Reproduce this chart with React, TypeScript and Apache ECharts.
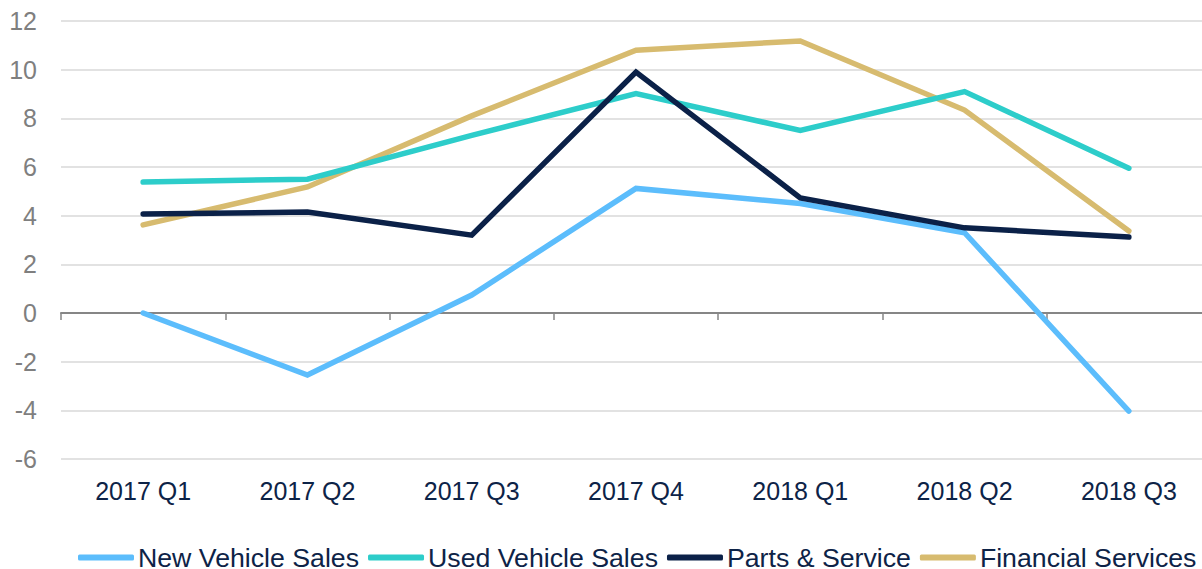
import React, { useEffect, useRef } from "react";
import * as echarts from "echarts";

const categories = ["2017 Q1", "2017 Q2", "2017 Q3", "2017 Q4", "2018 Q1", "2018 Q2", "2018 Q3"];
const newVehicleSales = [0, -2.55, 0.74, 5.12, 4.5, 3.3, -4.03];
const usedVehicleSales = [5.38, 5.5, 7.3, 9.02, 7.5, 9.1, 5.95];
const partsService = [4.07, 4.15, 3.2, 9.9, 4.73, 3.5, 3.12];
const financialServices = [3.62, 5.18, 8.1, 10.8, 11.18, 8.34, 3.37];
const yTicks = { min: -6, max: 12, interval: 2 };

const FONT = "'Liberation Sans', Arial, sans-serif";

export default function App() {
  const ref = useRef<HTMLDivElement>(null);
  useEffect(() => {
    if (!ref.current) return;
    const chart = echarts.init(ref.current, undefined, { renderer: "svg" });
    const mk = (name: string, data: number[], color: string, z: number) => ({
      name,
      type: "line",
      data,
      symbol: "none",
      z,
      xAxisIndex: 0,
      lineStyle: { color, width: 5.5, cap: "round", join: "miter" },
      itemStyle: { color },
    });
    chart.setOption({
      animation: false,
      textStyle: { fontFamily: FONT },
      grid: { left: 61, right: 9, top: 21, bottom: 110, containLabel: false },
      legend: {
        left: 78,
        top: 544,
        padding: 0,
        icon: "roundRect",
        itemWidth: 56,
        itemHeight: 6,
        itemGap: 9,
        textStyle: { fontSize: 26.7, lineHeight: 24, color: "#0d2347", fontFamily: FONT, padding: [0, 0, 0, -1] },
        data: ["New Vehicle Sales", "Used Vehicle Sales", "Parts & Service", "Financial Services"],
      },
      xAxis: [
        {
          type: "category",
          data: categories,
          boundaryGap: true,
          axisLine: { onZero: true, lineStyle: { color: "#868686", width: 2 } },
          axisTick: { show: true, length: 7, lineStyle: { color: "#868686", width: 1.5 } },
          axisLabel: { show: false },
          splitLine: { show: false },
        },
        {
          type: "category",
          data: categories,
          position: "bottom",
          boundaryGap: true,
          axisLine: { show: false, onZero: false },
          axisTick: { show: false },
          axisLabel: { show: true, fontSize: 25, color: "#0d2347", margin: 19, fontFamily: FONT },
          splitLine: { show: false },
        },
      ],
      yAxis: {
        type: "value",
        min: yTicks.min,
        max: yTicks.max,
        interval: yTicks.interval,
        axisLine: { show: false },
        axisTick: { show: false },
        axisLabel: { fontSize: 25, color: "#7f7f7f", margin: 24, fontFamily: FONT },
        splitLine: { lineStyle: { color: "#d9d9d9", width: 1.5 } },
      },
      series: [
        mk("New Vehicle Sales", newVehicleSales, "#5cbdfc", 2),
        mk("Used Vehicle Sales", usedVehicleSales, "#2dcdca", 4),
        mk("Parts & Service", partsService, "#0b2148", 5),
        mk("Financial Services", financialServices, "#d7bb6f", 3),
      ],
    });
    return () => chart.dispose();
  }, []);
  return (
    <div
      style={{ position: "absolute", left: 0, top: 0, width: 1202, height: 569, overflow: "hidden", background: "#fff" }}
    >
      <div ref={ref} style={{ width: 1220, height: 569 }} />
    </div>
  );
}
